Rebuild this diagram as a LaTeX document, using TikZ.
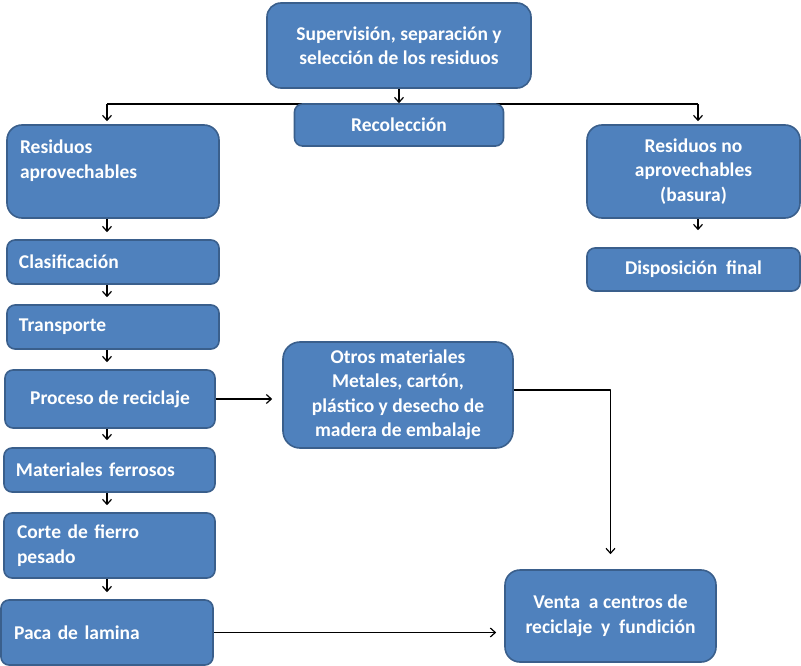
\documentclass[tikz,border=0pt]{standalone}
\usepackage{fontspec}
\setmainfont{Carlito}
\usetikzlibrary{arrows.meta}
\definecolor{boxfill}{HTML}{4F81BD}
\definecolor{boxline}{HTML}{3A5F8C}

\begin{document}
\begin{tikzpicture}[x=1pt,y=-1pt,>={Straight Barb[length=5pt,width=9pt]},line join=bevel,
  stage/.style={draw=boxline,fill=boxfill,line width=1.6pt,rounded corners=8pt,text=white,
    font=\bfseries\fontsize{19.5}{24.5}\selectfont,inner sep=0pt,align=center},
  link/.style={black,line width=1.2pt,->}]

 \useasboundingbox (0,0) rectangle (801,666);

 \coordinate (branch_l) at (107,104);
 \coordinate (branch_r) at (698,104);
 \draw [black,line width=1.2pt] (branch_l) -- (branch_r);

 \node (node_0) at (399,45.5) [stage,rounded corners=14pt,minimum width=264,minimum height=85] {Supervisión, separación y\\selección de los residuos};
 \node (node_1) at (399,125) [stage,minimum width=209,minimum height=42] {Recolección};
 \node (node_2) at (113,171.5) [stage,rounded corners=15pt,minimum width=212,minimum height=93,align=left,text width=186] {Residuos\\aprovechables\\~};
 \node (node_3) at (693.5,171.5) [stage,rounded corners=15pt,minimum width=213,minimum height=93] {Residuos no\\aprovechables\\(basura)};
 \node (node_4) at (693.5,269.5) [stage,minimum width=213,minimum height=43] {Disposición~ final};
 \node (node_5) at (113,262) [stage,minimum width=212,minimum height=44,align=left,text width=188] {Clasificación};
 \node (node_6) at (113,327) [stage,minimum width=212,minimum height=44,align=left,text width=188] {Transporte};
 \node (node_7) at (110,399) [stage,minimum width=210,minimum height=58] {Proceso de reciclaje};
 \node (node_8) at (109.5,470) [stage,minimum width=211,minimum height=44,align=left,text width=187] {Materiales ferrosos};
 \node (node_9) at (109.5,545.5) [stage,minimum width=211,minimum height=65,align=left,text width=185] {Corte de fierro\\pesado};
 \node (node_10) at (107,632.5) [stage,minimum width=212,minimum height=65,align=left,text width=186] {Paca de lamina};
 \node (node_11) at (398,395) [stage,rounded corners=17pt,minimum width=230,minimum height=106] {Otros materiales\\Metales, cartón,\\plástico y desecho de\\madera de embalaje};
 \node (node_12) at (610.5,616) [stage,rounded corners=15pt,minimum width=211,minimum height=92] {Venta~ a centros de\\reciclaje~ y~ fundición};

  \draw [link] (node_0.south) -- (node_1.north);
  \draw [link,shorten >=3pt] (branch_l) -- (branch_l |- node_2.north);
  \draw [link,shorten >=3pt] (branch_r) -- (branch_r |- node_3.north);
  \draw [link,shorten >=17pt] (branch_r |- node_3.south) -- (branch_r |- node_4.north);
  \draw [link,shorten >=7pt] (node_2.south -| branch_l) -- (node_5.north -| branch_l);
  \draw [link,shorten >=7pt] (node_5.south -| branch_l) -- (node_6.north -| branch_l);
  \draw [link,shorten >=7pt] (node_6.south -| branch_l) -- (node_7.north -| branch_l);
  \draw [link,shorten >=7pt] (node_7.south -| branch_l) -- (node_8.north -| branch_l);
  \draw [link,shorten >=7pt] (node_8.south -| branch_l) -- (node_9.north -| branch_l);
  \draw [link,shorten >=7pt] (node_9.south -| branch_l) -- (node_10.north -| branch_l);
  \draw [link,shorten >=10pt] (node_7.east) -- (node_7.east -| node_11.west);
  \draw [link,shorten >=15pt] ([yshift=5pt]node_11.east) -| (node_12.north);
  \draw [link,shorten >=8pt] (node_10.east) -- (node_10.east -| node_12.west);

\end{tikzpicture}
\end{document}
